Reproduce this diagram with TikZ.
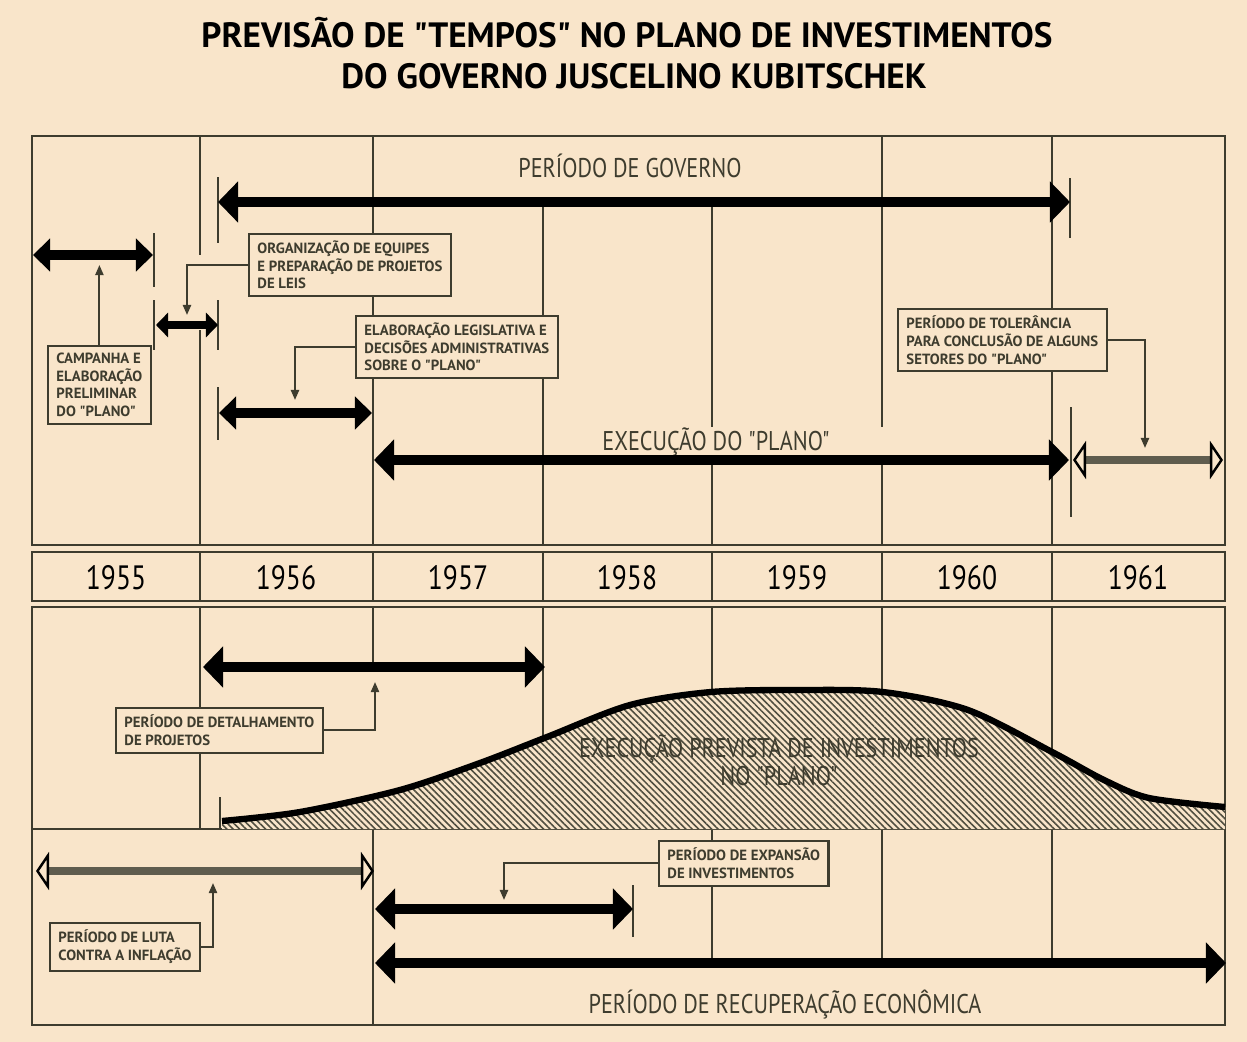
\documentclass[tikz,border=0pt]{standalone}
\usepackage{fontspec}
\setmainfont{PT Sans}
\newfontfamily\titlefont{PT Sans}
\newfontfamily\narrowfont[FakeStretch=0.82]{PT Sans}
\newfontfamily\notefont{PT Sans}
\usetikzlibrary{arrows.meta,patterns.meta,positioning}
\definecolor{paper}{RGB}{249,229,202}
\definecolor{ink}{RGB}{62,60,46}
\definecolor{hatch}{RGB}{80,78,64}
\definecolor{shaft}{RGB}{95,92,78}
\tikzset{
  bigtip/.tip={Triangle[length=2mm,width=4mm]},
  midtip/.tip={Triangle[length=1.7mm,width=3.2mm]},
  smalltip/.tip={Triangle[length=1.2mm,width=2.4mm]},
  pointtip/.tip={Triangle[length=1mm,width=0.8mm]},
}

\begin{document}
\begin{tikzpicture}[x=0.01cm, y=-0.01cm,
    gridline/.style={draw=ink, line width=0.6pt},
    tickmark/.style={draw=ink, line width=0.6pt},
    titletext/.style={text=black, font=\titlefont\bfseries\fontsize{10}{12}\selectfont},
    bigtext/.style={text=ink, font=\narrowfont\fontsize{7.7}{8}\selectfont},
    year/.style={text=black, font=\narrowfont\fontsize{9.6}{11}\selectfont},
    note/.style={draw=ink, line width=0.6pt, fill=paper, text=ink, align=left,
      inner xsep=2.4pt, inner ysep=2pt, font=\notefont\bfseries\fontsize{4.2}{5}\selectfont},
    period/.style={line width=2.8pt, bigtip-bigtip},
    midperiod/.style={line width=2.6pt, midtip-midtip},
    smallperiod/.style={line width=2.4pt, smalltip-smalltip},
    tolhalf/.style={draw=shaft, line width=2pt,
      -{Triangle[open,fill=paper,color=black,line width=0.7pt,length=1.3mm,width=3.8mm]}},
    callout/.style={draw=ink, line width=0.6pt, -pointtip},
    investline/.style={draw=black, line width=1.8pt},
  ]
  \fill[paper] (0,0) rectangle (1247,1042);
  \useasboundingbox (0,0) rectangle (1247,1042);

  \node[titletext, anchor=base] at (627,47)(title1){PREVISÃO DE "TEMPOS" NO PLANO DE INVESTIMENTOS};
  \node[titletext, anchor=base] at (634,88)(title2){DO GOVERNO JUSCELINO KUBITSCHEK};

  % frames
  \draw[gridline] (32,136) rectangle (1225,545);
  \draw[gridline] (32,552) rectangle (1225,601);
  \draw[gridline] (32,607) rectangle (1225,1025);
  \draw[gridline] (32,829) -- (1225,829);

  % year lines
  \draw[gridline] (200,136) -- (200,255) (200,330) -- (200,545)
    (373,136) -- (373,545) (543,203) -- (543,545)
    (712,203) -- (712,427) (712,460) -- (712,545)
    (882,136) -- (882,427) (882,460) -- (882,545)
    (1052,136) -- (1052,545);
  \foreach \cx in {200,373,543,712,882,1052}
    \draw[gridline] (\cx,552) -- (\cx,601);
  \draw[gridline] (200,607) -- (200,829) (373,607) -- (373,667)
    (543,607) -- (543,829) (712,607) -- (712,829)
    (882,607) -- (882,829) (1052,607) -- (1052,829);
  \draw[gridline] (373,829) -- (373,1025) (712,829) -- (712,963)
    (882,829) -- (882,963) (1052,829) -- (1052,963);

  \foreach \yr/\cx in {1955/116,1956/286,1957/458,1958/627,1959/797,1960/967,1961/1138}
    \node[year, anchor=base] at (\cx,589)(y\yr){\yr};

  % ticks
  \draw[tickmark] (154,233) -- (154,287) (154,300) -- (154,350)
    (218,177) -- (218,243) (218,300) -- (218,350) (218,387) -- (218,440)
    (1070,178) -- (1070,238) (1071,407) -- (1071,517)
    (220,797) -- (220,829) (633,885) -- (633,937);

  % investment curve
  \path[preaction={fill=paper}, pattern={Lines[angle=-45,distance=1.3pt,line width=0.45pt]}, pattern color=hatch]
    (222,829) -- plot[smooth] coordinates {(222,821) (300,812) (400,790) (480,763) (547,737) (630,705)
      (711,692) (800,690) (883,692) (968,710) (1054,753) (1104,780) (1149,798) (1225,807)}
    -- (1225,829) -- cycle;
  \draw[investline] plot[smooth] coordinates {(222,821) (300,812) (400,790) (480,763) (547,737) (630,705)
      (711,692) (800,690) (883,692) (968,710) (1054,753) (1104,780) (1149,798) (1225,807)};

  % labels
  \node[bigtext, anchor=base] at (630,177)(govlabel){PERÍODO DE GOVERNO};
  \node[bigtext, anchor=base] at (716,450)(execlabel){EXECUÇÃO DO "PLANO"};
  \node[bigtext, align=center] at (779,760)(invlabel){EXECUÇÃO PREVISTA DE INVESTIMENTOS\\NO "PLANO"};
  \node[bigtext, anchor=base] at (785,1013)(reclabel){PERÍODO DE RECUPERAÇÃO ECONÔMICA};

  % periods
  \coordinate (gov0) at (218,202); \coordinate (gov1) at (1070,202);
  \coordinate (camp0) at (33,255); \coordinate (camp1) at (153,255);
  \coordinate (org0) at (156,325); \coordinate (org1) at (218,325);
  \coordinate (leg0) at (219,413); \coordinate (leg1) at (372,413);
  \coordinate (exec0) at (374,460); \coordinate (exec1) at (1069,460);
  \coordinate (tol0) at (1073,460); \coordinate (tolmid) at (1150,460); \coordinate (tol1) at (1223,460);
  \coordinate (det0) at (203,667); \coordinate (det1) at (545,667);
  \coordinate (luta0) at (36,871); \coordinate (lutamid) at (205,871); \coordinate (luta1) at (374,871);
  \coordinate (exp0) at (375,909); \coordinate (exp1) at (633,909);
  \coordinate (rec0) at (375,963); \coordinate (rec1) at (1226,963);

  \path[period] (gov0) edge (gov1) (exec0) edge (exec1) (det0) edge (det1)
    (exp0) edge (exp1) (rec0) edge (rec1);
  \path[midperiod] (camp0) edge (camp1) (leg0) edge (leg1);
  \path[smallperiod] (org0) edge (org1);
  \draw[tolhalf] (tolmid) -- (tol0);
  \draw[tolhalf] (tolmid) -- (tol1);
  \draw[tolhalf] (lutamid) -- (luta0);
  \draw[tolhalf] (lutamid) -- (luta1);

  % notes
  \node[note, anchor=north west] at (47,345)(campbox){CAMPANHA E\\ELABORAÇÃO\\PRELIMINAR\\DO "PLANO"};
  \node[note, anchor=north west] at (248,233)(orgbox){ORGANIZAÇÃO DE EQUIPES\\E PREPARAÇÃO DE PROJETOS\\DE LEIS};
  \node[note, anchor=north west] at (355,315)(legbox){ELABORAÇÃO LEGISLATIVA E\\DECISÕES ADMINISTRATIVAS\\SOBRE O "PLANO"};
  \node[note, anchor=north west] at (897,308)(tolbox){PERÍODO DE TOLERÂNCIA\\PARA CONCLUSÃO DE ALGUNS\\SETORES DO "PLANO"};
  \node[note, anchor=north west] at (115,707)(detbox){PERÍODO DE DETALHAMENTO\\DE PROJETOS};
  \node[note, anchor=north west] at (658,840)(expbox){PERÍODO DE EXPANSÃO\\DE INVESTIMENTOS};
  \node[note, anchor=north west] at (49,922)(lutabox){PERÍODO DE LUTA\\CONTRA A INFLAÇÃO};

  \coordinate (camptip) at (95,265);
  \coordinate (orgtip) at (187,315);
  \coordinate (legtip) at (295,400);
  \coordinate (toltip) at (1145,448);
  \coordinate (dettip) at (375,682);
  \coordinate (exptip) at (504,900);
  \coordinate (lutatip) at (213,883);

  \draw[callout] (campbox.north) -- (campbox.north |- camptip);
  \draw[callout] (orgbox.west) -| (orgtip);
  \draw[callout] (legbox.west) -| (legtip);
  \draw[callout] (tolbox.east) -| (toltip);
  \draw[callout] (detbox.east) -| (dettip);
  \draw[callout] (expbox.west) -| (exptip);
  \draw[callout] (lutabox.east) -| (lutatip);
\end{tikzpicture}
\end{document}
